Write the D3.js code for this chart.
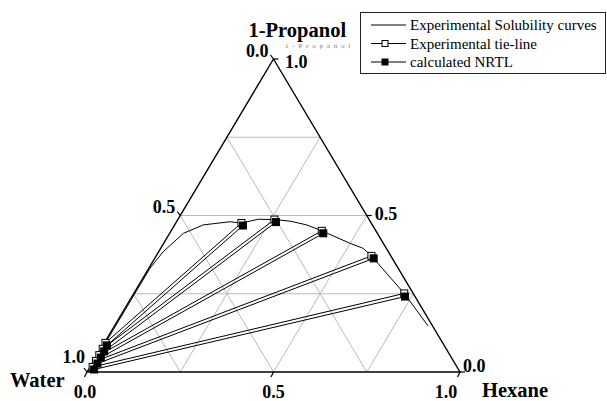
<!DOCTYPE html>
<html><head><meta charset="utf-8">
<script src="https://cdn.jsdelivr.net/npm/d3@7"></script>
<style>html,body{margin:0;padding:0;background:#fff;} svg{display:block;}</style>
</head><body>
<svg id="chart" width="607" height="401"></svg>
<script>
// Ternary liquid-liquid equilibrium diagram: Water / 1-Propanol / Hexane (mass fractions)
const components = ["Water", "1-Propanol", "Hexane"];
const tickValues = [0, 0.5, 1];
const tickLabels = ["0.0", "0.5", "1.0"];
const gridValues = [0.25, 0.5, 0.75];

// experimental solubility (binodal) curve
const curvePropanol = [0.000, 0.016, 0.035, 0.054, 0.074, 0.093, 0.200, 0.331, 0.384, 0.443, 0.470, 0.480, 0.476, 0.488, 0.487, 0.482, 0.470, 0.451, 0.431, 0.411, 0.395, 0.371, 0.310, 0.251, 0.147];
const curveHexane   = [0.006, 0.007, 0.0065, 0.006, 0.005, 0.003, 0.003, 0.003, 0.012, 0.037, 0.077, 0.143, 0.176, 0.215, 0.259, 0.303, 0.354, 0.404, 0.452, 0.500, 0.543, 0.577, 0.652, 0.725, 0.841];

// experimental tie-lines: water-rich and hexane-rich phase compositions
const expAqPropanol  = [0.093, 0.074, 0.054, 0.035, 0.016];
const expAqHexane    = [0.003, 0.005, 0.006, 0.0065, 0.007];
const expOrgPropanol = [0.476, 0.487, 0.451, 0.371, 0.251];
const expOrgHexane   = [0.176, 0.259, 0.404, 0.577, 0.725];

// NRTL-calculated tie-lines
const calcAqPropanol  = [0.085, 0.066, 0.046, 0.027, 0.008];
const calcAqHexane    = [0.011, 0.013, 0.014, 0.0145, 0.015];
const calcOrgPropanol = [0.468, 0.479, 0.443, 0.363, 0.241];
const calcOrgHexane   = [0.184, 0.267, 0.412, 0.587, 0.732];

const legendLabels = ["Experimental Solubility curves", "Experimental tie-line", "calculated NRTL"];

const serif = "'Liberation Serif', 'Times New Roman', Times, serif";
const svg = d3.select("#chart");

// Cartesian scales for the triangle: horizontal = hexane + propanol/2, vertical = propanol
const x = d3.scaleLinear().domain([0, 1]).range([87, 460]);
const y = d3.scaleLinear().domain([0, 1]).range([372, 59]);
const pt = (p, h) => [x(h + p / 2), y(p)];
const line = d3.line();

// grid
const grid = svg.append("g").attr("stroke", "#b9b9b9").attr("stroke-width", 1).attr("fill", "none");
gridValues.forEach(v => {
  grid.append("path").attr("d", line([pt(v, 0), pt(v, 1 - v)]));          // constant propanol
  grid.append("path").attr("d", line([pt(0, v), pt(1 - v, v)]));          // constant hexane
  grid.append("path").attr("d", line([pt(0, 1 - v), pt(1 - v, 0)]));      // constant water
});

// triangle frame
const W = pt(0, 0), P = pt(1, 0), H = pt(0, 1);
svg.append("path").attr("d", line([W, P, H]) + "Z")
  .attr("fill", "none").attr("stroke", "#000").attr("stroke-width", 1.4);

// tick marks and labels
const ticks = svg.append("g").attr("stroke", "#000").attr("stroke-width", 1.2);
const labels = svg.append("g").attr("font-family", serif).attr("font-weight", "bold")
  .attr("font-size", 18).attr("fill", "#000");

// left axis (water fraction, 1.0 at Water corner)
tickValues.forEach((v, i) => {
  const [px, py] = pt(v, 0);
  ticks.append("line").attr("x1", px).attr("y1", py).attr("x2", px - 3).attr("y2", py - 4);
  const off = i === 0 ? [-2, -9] : [-5, -2.5];
  labels.append("text").attr("x", px + off[0]).attr("y", py + off[1])
    .attr("text-anchor", "end").text(tickLabels[tickLabels.length - 1 - i]);
});
// right axis (propanol fraction, 1.0 at apex)
tickValues.forEach((v, i) => {
  const [px, py] = pt(v, 1 - v);
  ticks.append("line").attr("x1", px).attr("y1", py).attr("x2", px + 5).attr("y2", py);
  const off = i === 2 ? [11.5, 9] : (i === 1 ? [8, 4.5] : [3, 0]);
  labels.append("text").attr("x", px + off[0]).attr("y", py + off[1])
    .attr("text-anchor", "start").text(tickLabels[i]);
});
// bottom axis (hexane fraction)
tickValues.forEach((v, i) => {
  const [px, py] = pt(0, v);
  ticks.append("line").attr("x1", px).attr("y1", py).attr("x2", px - 2.5).attr("y2", py + 5);
  const dx = i === 0 ? -2 : (i === 1 ? 0 : -14);
  labels.append("text").attr("x", px + dx).attr("y", py + 25.5)
    .attr("text-anchor", "middle").text(tickLabels[i]);
});

// component names
const titles = svg.append("g").attr("font-family", serif).attr("font-weight", "bold")
  .attr("font-size", 20.5).attr("fill", "#000");
// faint secondary propanol caption under the main one
svg.append("text")
  .attr("x", 285).attr("y", 47.5).attr("font-family", serif).attr("font-size", 7)
  .attr("letter-spacing", 3.8).attr("fill", "#777").text(components[1]);
titles.append("text").attr("x", W[0] - 77).attr("y", W[1] + 14.5).text(components[0]);
titles.append("text").attr("x", P[0] - 25).attr("y", P[1] - 22).text(components[1]);
titles.append("text").attr("x", H[0] + 22).attr("y", H[1] + 25).text(components[2]);

// solubility curve
const curvePts = curvePropanol.map((p, i) => pt(p, curveHexane[i]));
svg.append("path").attr("d", line(curvePts))
  .attr("fill", "none").attr("stroke", "#000").attr("stroke-width", 1);

// tie-lines
const expPairs = expAqPropanol.map((p, i) => [pt(p, expAqHexane[i]), pt(expOrgPropanol[i], expOrgHexane[i])]);
const calcPairs = calcAqPropanol.map((p, i) => [pt(p, calcAqHexane[i]), pt(calcOrgPropanol[i], calcOrgHexane[i])]);
const tie = svg.append("g").attr("fill", "none").attr("stroke", "#000").attr("stroke-width", 1);
expPairs.forEach(d => tie.append("path").attr("d", line(d)));
calcPairs.forEach(d => tie.append("path").attr("d", line(d)));

const ms = 7;
const square = (g, pts, fill) => g.selectAll("rect").data(pts).join("rect")
  .attr("x", d => d[0] - ms / 2).attr("y", d => d[1] - ms / 2)
  .attr("width", ms).attr("height", ms)
  .attr("fill", fill).attr("stroke", "#000").attr("stroke-width", 1);
square(svg.append("g"), expPairs.flat(), "#fff");
square(svg.append("g"), calcPairs.flat(), "#000");

// legend
const lg = svg.append("g").attr("transform", "translate(360,12)");
lg.append("rect").attr("x", 0.5).attr("y", 0.5).attr("width", 245).attr("height", 61)
  .attr("fill", "#fff").attr("stroke", "#222").attr("stroke-width", 1);
const rowY = [13, 31.5, 50];
legendLabels.forEach((t, i) => {
  lg.append("line").attr("x1", 11).attr("x2", 46).attr("y1", rowY[i]).attr("y2", rowY[i])
    .attr("stroke", "#000").attr("stroke-width", 1);
  if (i > 0) {
    lg.append("rect").attr("x", 25 - 3).attr("y", rowY[i] - 3).attr("width", 6).attr("height", 6)
      .attr("fill", i === 1 ? "#fff" : "#000").attr("stroke", "#000").attr("stroke-width", 1);
  }
  lg.append("text").attr("x", 50).attr("y", rowY[i] + 5)
    .attr("font-family", serif).attr("font-size", 15).attr("fill", "#000").text(t);
});
</script>
</body></html>
